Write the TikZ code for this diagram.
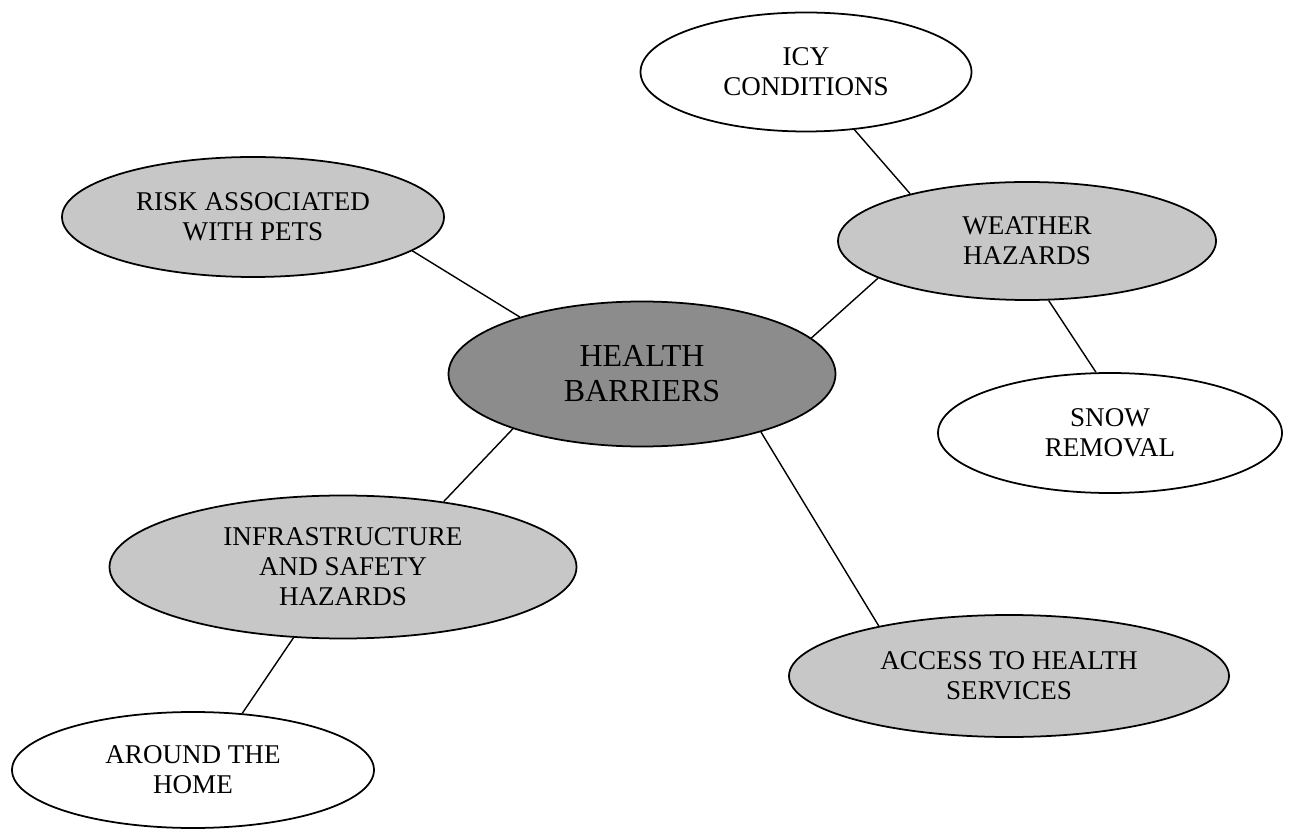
\documentclass[tikz,border=0pt]{standalone}
\usepackage{fontspec}
\setmainfont{Liberation Serif}
\usetikzlibrary{shapes.geometric}

\begin{document}
\begin{tikzpicture}[x=1cm,y=1cm,
  topic/.style={draw, ellipse, line width=1pt, inner sep=0pt, align=center, font=\fontsize{15.4}{17.1}\selectfont},
  shaded/.style={topic, fill=black!22},
  plain/.style={topic, fill=white},
  spoke/.style={line width=0.8pt}]
\useasboundingbox (0,0) rectangle (25.78,-16.58);

\node[topic, fill=black!45, minimum width=7.74cm, minimum height=2.9cm, font=\fontsize{18.2}{19.9}\selectfont] (health) at (12.84,-7.48) {HEALTH\\BARRIERS};
\node[shaded, minimum width=7.64cm, minimum height=2.4cm] (pets) at (5.06,-4.34) {RISK ASSOCIATED\\WITH PETS};
\node[plain, minimum width=6.62cm, minimum height=2.38cm] (icy) at (16.12,-1.44) {ICY\\CONDITIONS};
\node[shaded, minimum width=7.56cm, minimum height=2.36cm] (weather) at (20.54,-4.82) {WEATHER\\HAZARDS};
\node[plain, minimum width=6.88cm, minimum height=2.4cm] (snow) at (22.2,-8.66) {SNOW\\REMOVAL};
\node[shaded, minimum width=9.34cm, minimum height=2.86cm] (infra) at (6.86,-11.34) {INFRASTRUCTURE\\AND SAFETY\\HAZARDS};
\node[shaded, minimum width=8.8cm, minimum height=2.44cm] (access) at (20.18,-13.52) {ACCESS TO HEALTH\\SERVICES};
\node[plain, minimum width=7.24cm, minimum height=2.32cm] (home) at (3.86,-15.4) {AROUND THE\\HOME};

\draw[spoke] (pets.-12.4) -- (health.155.1);
\draw[spoke] (health.12.9) -- (weather.194.9);
\draw[spoke] (icy.-50.8) -- (weather.158.9);
\draw[spoke] (weather.-70.4) -- (snow.103.1);
\draw[spoke] (health.-26.2) -- (access.159.5);
\draw[spoke] (health.203.6) -- (infra.33.6);
\draw[spoke] (infra.235.4) -- (home.49.2);
\end{tikzpicture}
\end{document}
